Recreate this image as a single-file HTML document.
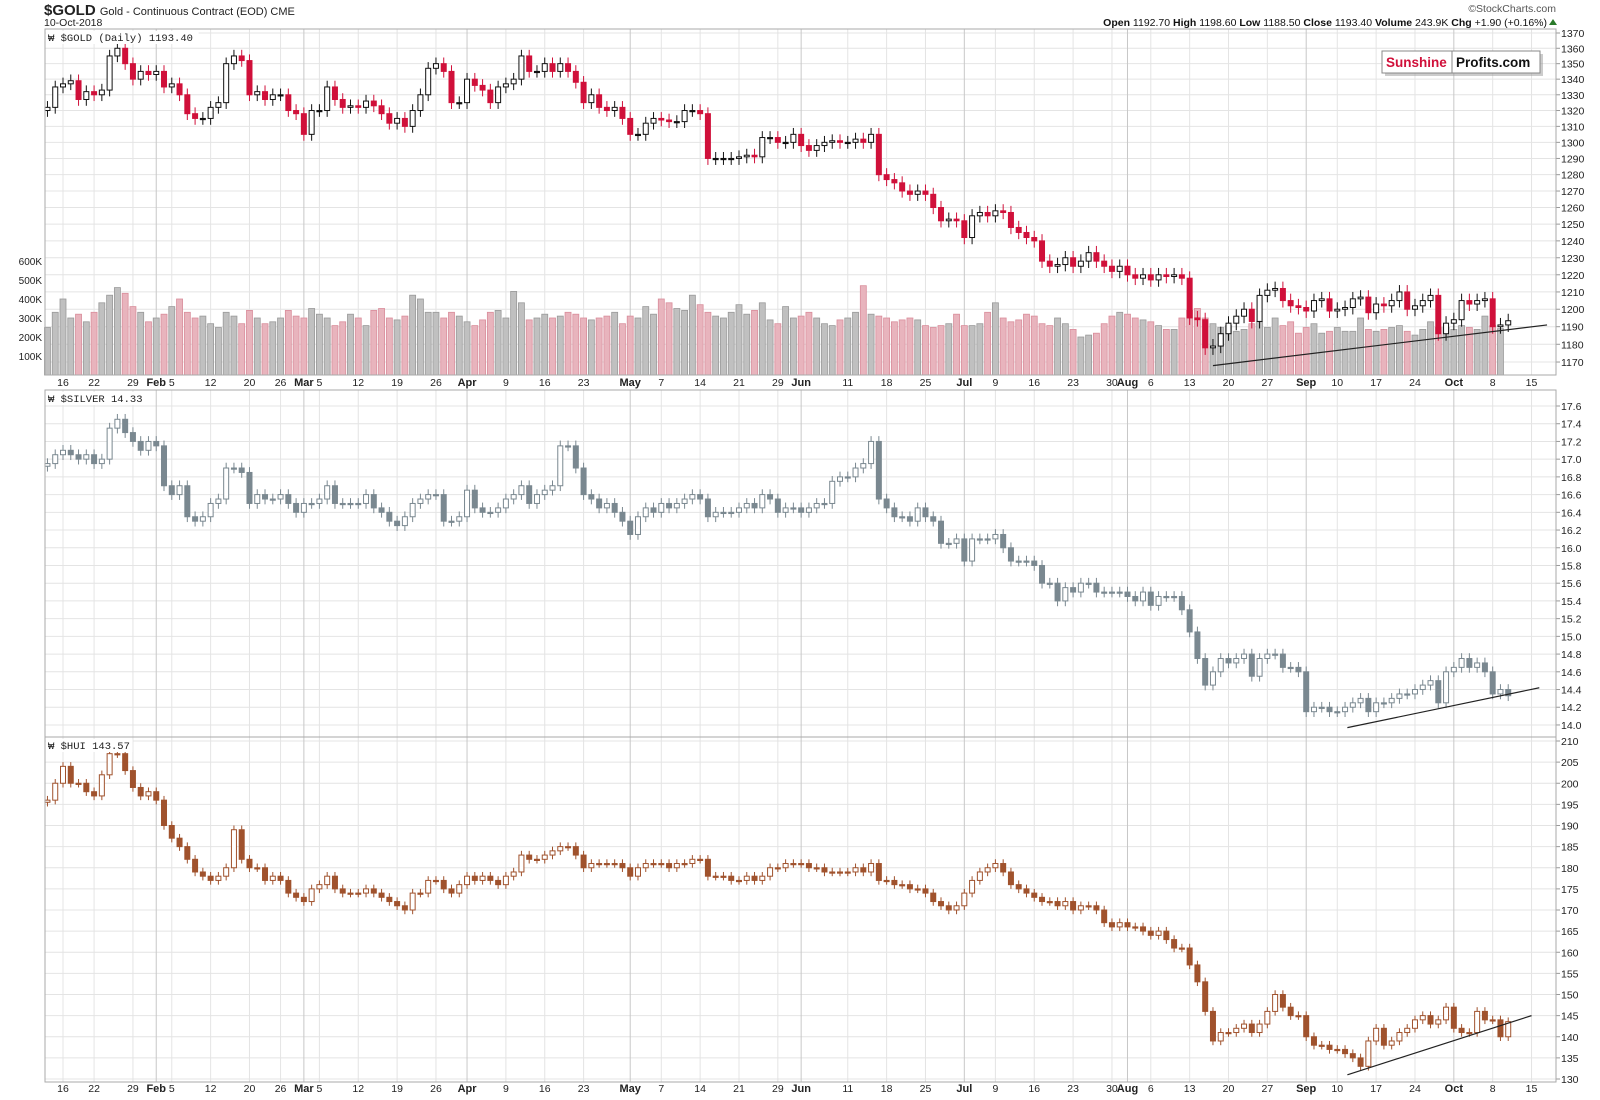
<!DOCTYPE html>
<html><head><meta charset="utf-8"><style>
html,body{margin:0;padding:0;background:#fff;}
svg{display:block;font-family:"Liberation Sans",sans-serif;}
</style></head><body>
<svg id="c" width="1600" height="1100" viewBox="0 0 1600 1100" xmlns="http://www.w3.org/2000/svg">
<rect x="0" y="0" width="1600" height="1100" fill="#fff"/>
<text x="44" y="15" font-size="15" font-weight="bold" fill="#222">$GOLD <tspan font-size="11" font-weight="normal">Gold - Continuous Contract (EOD) CME</tspan></text>
<text x="44" y="26" font-size="10.5" fill="#222">10-Oct-2018</text>
<text x="1556" y="12" font-size="10.5" fill="#555" text-anchor="end">©StockCharts.com</text>
<text x="1547" y="26" font-size="10.5" fill="#111" text-anchor="end"><tspan font-weight="bold">Open</tspan> 1192.70 <tspan font-weight="bold">High</tspan> 1198.60 <tspan font-weight="bold">Low</tspan> 1188.50 <tspan font-weight="bold">Close</tspan> 1193.40 <tspan font-weight="bold">Volume</tspan> 243.9K <tspan font-weight="bold">Chg</tspan> +1.90 (+0.16%)</text>
<polygon points="1549,25 1557,25 1553,19" fill="#2a7a2a"/>
<g id="grid"></g>
<g id="marks"></g>
<g id="frame"></g>
<g>
<rect x="1385" y="54" width="158" height="22" fill="#999" opacity="0.5"/>
<rect x="1382" y="51" width="158" height="22" fill="#fff" stroke="#888"/>
<line x1="1452" y1="51" x2="1452" y2="73" stroke="#888"/>
<text x="1386" y="67" font-size="13.5" font-weight="bold" fill="#d0103a">Sunshine</text>
<text x="1456" y="67" font-size="13.5" font-weight="bold" fill="#111">Profits.com</text>
</g>
</svg>
<script>
// ---------- DATA ----------
const months = [[0,[11,12,16,17,18,19,22,23,24,25,26,29,30,31]],
[1,[1,2,5,6,7,8,9,12,13,14,15,16,20,21,22,23,26,27,28]],
[2,[1,2,5,6,7,8,9,12,13,14,15,16,19,20,21,22,23,26,27,28,29]],
[3,[2,3,4,5,6,9,10,11,12,13,16,17,18,19,20,23,24,25,26,27,30]],
[4,[1,2,3,4,7,8,9,10,11,14,15,16,17,18,21,22,23,24,25,29,30,31]],
[5,[1,4,5,6,7,8,11,12,13,14,15,18,19,20,21,22,25,26,27,28,29]],
[6,[2,3,5,6,9,10,11,12,13,16,17,18,19,20,23,24,25,26,27,30,31]],
[7,[1,2,3,6,7,8,9,10,13,14,15,16,17,20,21,22,23,24,27,28,29,30,31]],
[8,[4,5,6,7,10,11,12,13,14,17,18,19,20,21,24,25,26,27,28]],
[9,[1,2,3,4,5,8,9,10]]];
const goldClose = [
1322,1335,1337,1339,1327,1332,1330,1333,1355,1360,1350,1340,1345,1343,
1345,1335,1337,1330,1318,1315,1315,1322,1325,1350,1355,1352,1330,1332,1327,1330,1330,1320,1318,
1305,1320,1320,1335,1327,1322,1323,1322,1326,1323,1318,1312,1315,1310,1320,1330,1347,1350,1345,1325,1325,
1340,1336,1333,1325,1335,1337,1340,1355,1345,1345,1350,1345,1350,1345,1338,1325,1330,1322,1320,1322,1315,
1305,1305,1312,1315,1314,1313,1313,1320,1320,1318,1290,1290,1290,1290,1291,1292,1291,1303,1303,1300,1300,1305,
1298,1295,1298,1300,1301,1300,1300,1302,1300,1305,1280,1277,1275,1270,1268,1270,1268,1260,1252,1253,1252,
1242,1255,1257,1255,1258,1257,1248,1245,1242,1240,1228,1225,1226,1230,1225,1228,1233,1228,1225,1222,1225,
1220,1218,1220,1217,1220,1219,1220,1218,1195,1194,1178,1179,1186,1192,1196,1200,1193,1208,1211,1212,1205,1202,1201,
1199,1205,1206,1199,1200,1201,1206,1207,1198,1203,1202,1205,1210,1200,1202,1205,1208,1186,1192,
1194,1205,1203,1205,1206,1190,1191,1193.4];
const goldVolumeK = [
250,330,400,300,320,280,330,380,420,460,430,360,330,280,
300,320,360,400,330,300,310,270,250,330,310,270,340,300,270,280,300,340,310,
300,350,320,300,260,280,320,300,260,340,350,300,290,310,420,400,330,330,300,330,
310,280,260,290,330,340,300,440,380,290,300,320,300,310,330,320,300,290,300,310,330,
270,310,300,360,320,400,380,350,340,420,370,330,310,300,330,370,320,340,380,290,270,360,
300,310,330,300,270,260,290,300,330,470,320,310,300,280,290,300,290,260,250,260,270,
320,260,260,270,330,380,300,280,290,320,310,270,260,300,270,240,200,210,220,270,310,
330,320,300,290,280,260,240,240,300,340,350,300,270,250,260,230,240,270,280,250,300,260,280,
220,250,270,220,230,250,230,230,300,240,230,240,250,260,230,210,240,280,250,
250,240,260,250,240,310,260,244];
const silverClose = [
16.95,17.05,17.1,17.05,17.0,17.05,16.95,17.0,17.35,17.45,17.3,17.2,17.1,17.2,
17.15,16.7,16.6,16.7,16.35,16.3,16.35,16.5,16.55,16.9,16.9,16.85,16.5,16.6,16.55,16.55,16.6,16.5,16.4,
16.5,16.5,16.55,16.7,16.5,16.5,16.5,16.5,16.6,16.45,16.4,16.3,16.25,16.35,16.5,16.55,16.6,16.6,16.3,16.3,16.35,
16.65,16.45,16.4,16.4,16.45,16.55,16.6,16.7,16.5,16.6,16.65,16.7,17.15,17.15,16.9,16.6,16.55,16.45,16.5,16.4,16.3,
16.15,16.35,16.45,16.4,16.5,16.45,16.5,16.55,16.6,16.55,16.35,16.4,16.4,16.4,16.45,16.5,16.45,16.6,16.55,16.4,16.45,16.45,
16.4,16.45,16.5,16.5,16.75,16.8,16.8,16.9,16.95,17.2,16.55,16.45,16.35,16.35,16.3,16.45,16.35,16.3,16.05,16.05,16.1,
15.85,16.1,16.1,16.1,16.15,16.0,15.85,15.85,15.85,15.8,15.6,15.6,15.4,15.55,15.5,15.6,15.6,15.5,15.5,15.5,15.5,
15.45,15.4,15.5,15.35,15.45,15.45,15.45,15.3,15.05,14.75,14.45,14.6,14.75,14.7,14.75,14.8,14.55,14.75,14.8,14.8,14.65,14.65,14.6,
14.15,14.2,14.2,14.15,14.15,14.2,14.25,14.3,14.15,14.25,14.25,14.3,14.35,14.35,14.4,14.45,14.5,14.25,14.6,
14.65,14.75,14.65,14.7,14.6,14.35,14.4,14.33];
const huiClose = [
196,200,204,200,200,198,197,202,207,207,203,199,197,198,
196,190,187,185,182,179,178,177,178,180,189,182,180,180,177,178,177,174,173,
172,175,176,178,175,174,174,174,175,174,173,172,171,170,174,174,177,177,175,174,176,
178,177,178,177,176,178,179,183,182,182,183,184,185,185,183,180,181,181,181,181,180,
178,180,181,181,181,180,181,181,182,182,178,178,178,177,177,178,177,178,180,180,181,181,
181,180,180,179,179,179,179,180,179,181,177,177,176,176,175,175,174,172,171,170,171,
174,177,179,180,181,179,176,175,174,173,172,172,171,172,170,171,171,170,167,166,167,
166,166,165,164,165,163,161,161,157,153,146,139,141,141,142,143,141,143,146,150,147,145,145,
140,138,138,137,137,136,135,133,139,142,138,139,141,142,144,145,143,144,147,
142,141,141,146,144,144,140,143.57];
const goldTicks = [1170,1180,1190,1200,1210,1220,1230,1240,1250,1260,1270,1280,1290,1300,1310,1320,1330,1340,1350,1360,1370];
const volTicks = [100,200,300,400,500,600];
const silverTicks = [14.0,14.2,14.4,14.6,14.8,15.0,15.2,15.4,15.6,15.8,16.0,16.2,16.4,16.6,16.8,17.0,17.2,17.4,17.6];
const huiTicks = [130,135,140,145,150,155,160,165,170,175,180,185,190,195,200,205,210];
// date ticks: [month, day, label, isMonthStart]
const dateTicks = [[0,16,"16",0],[0,22,"22",0],[0,29,"29",0],[1,1,"Feb",1],[1,5,"5",0],[1,12,"12",0],[1,20,"20",0],[1,26,"26",0],[2,1,"Mar",1],[2,5,"5",0],[2,12,"12",0],[2,19,"19",0],[2,26,"26",0],[3,2,"Apr",1],[3,9,"9",0],[3,16,"16",0],[3,23,"23",0],[4,1,"May",1],[4,7,"7",0],[4,14,"14",0],[4,21,"21",0],[4,29,"29",0],[5,1,"Jun",1],[5,11,"11",0],[5,18,"18",0],[5,25,"25",0],[6,2,"Jul",1],[6,9,"9",0],[6,16,"16",0],[6,23,"23",0],[6,30,"30",0],[7,1,"Aug",1],[7,6,"6",0],[7,13,"13",0],[7,20,"20",0],[7,27,"27",0],[8,4,"Sep",1],[8,10,"10",0],[8,17,"17",0],[8,24,"24",0],[9,1,"Oct",1],[9,8,"8",0],[9,15,"15",0]];
// trend lines: [startIndex, startValue, endIndex, endValue]
const goldTrend = [150, 1168, 193, 1191];
const silverTrend = [167.3, 13.97, 192, 14.42];
const huiTrend = [167.3, 131, 191, 145];

// ---------- SCALES ----------
const NS = "http://www.w3.org/2000/svg";
const L = 45, R = 1556;
const P = {g:[29,375], s:[390,737], h:[737,1082]};
const dayIdx = {};
let n = 0;
months.forEach(([m, ds]) => ds.forEach(d => { dayIdx[m + "-" + d] = n++; }));
dayIdx["9-15"] = n + 2; // Oct 15 (future)
const xOf = i => 63 + (i - 2) * 7.77;
const yGold = p => 33 + (Math.log(1370) - Math.log(p)) * 2085;
const yVol = v => 375 - v * 0.19;
const ySil = p => 406 + (17.6 - p) * 88.6;
const yHui = p => 741 + (210 - p) * 4.225;

const grid = document.getElementById("grid");
const marks = document.getElementById("marks");
const frame = document.getElementById("frame");
function mk(tag, attrs, parent) {
  const e = document.createElementNS(NS, tag);
  for (const k in attrs) e.setAttribute(k, attrs[k]);
  parent.appendChild(e);
  return e;
}

// horizontal grid + y labels
function yAxis(ticks, yf, fmt, name) {
  ticks.forEach(t => {
    const y = yf(t);
    const gl = mk("line", {x1: L, x2: R, y1: y, y2: y, stroke: "#e4e4e4", "stroke-width": 1}, grid);
    
    
    mk("line", {x1: R, x2: R + 4, y1: y, y2: y, stroke: "#999"}, frame);
    const tx = mk("text", {x: R + 5, y: y + 4, "font-size": 10.5, fill: "#222"}, frame);
    tx.textContent = fmt(t);
    
    
  });
}
yAxis(goldTicks, yGold, t => t, "gold-y-axis");
yAxis(silverTicks, ySil, t => t.toFixed(1), "silver-y-axis");
yAxis(huiTicks, yHui, t => t, "hui-y-axis");
volTicks.forEach(v => {
  const tx = mk("text", {x: 42, y: yVol(v) + 4, "font-size": 10, fill: "#222", "text-anchor": "end"}, frame);
  tx.textContent = v + "K";
  
  
});

// vertical grid + date labels
dateTicks.forEach(([m, d, lab, ms]) => {
  const i = dayIdx[m + "-" + d];
  const x = xOf(i);
  [[P.g[0], P.g[1]], [P.s[0], P.s[1]], [P.h[0], P.h[1]]].forEach(([a, b]) => {
    const vl = mk("line", {x1: x, x2: x, y1: a, y2: b, stroke: ms ? "#c8c8c8" : "#e4e4e4", "stroke-width": 1}, grid);
    
    
  });
  [386, 1092].forEach(y => {
    const tx = mk("text", {x: x, y: y, "font-size": ms ? 11 : 10.5, "font-weight": ms ? "bold" : "normal", fill: "#222", "text-anchor": "middle"}, frame);
    tx.textContent = lab;
    
    
  });
});

// panel frames
[["gold-panel", P.g], ["silver-panel", P.s], ["hui-panel", P.h]].forEach(([nm, [a, b]]) => {
  const r = mk("rect", {x: L, y: a, width: R - L, height: b - a, fill: "none", stroke: "#aaa"}, frame);
  
  
});
[["$GOLD (Daily) 1193.40", 41, "gold-panel-label"], ["$SILVER 14.33", 402, "silver-panel-label"], ["$HUI 143.57", 749, "hui-panel-label"]].forEach(([t, y, nm]) => {
  mk("rect", {x: 46, y: y - 10, width: t.length * 6.6 + 14, height: 13, fill: "#fff"}, frame);
  const tx = mk("text", {x: 48, y: y, "font-size": 10.5, fill: "#222", "font-family": "Liberation Mono, monospace"}, frame);
  tx.textContent = "₩ " + t;
  
  
});

// volume bars
goldVolumeK.forEach((v, i) => {
  const up = i === 0 || goldClose[i] >= goldClose[i - 1];
  const x = xOf(i);
  const b = mk("rect", {x: x - 3, y: yVol(v), width: 6, height: 375 - yVol(v), fill: up ? "#c0c0c0" : "#e8b4bd", stroke: up ? "#999" : "#d98d9b", "stroke-width": 0.8}, marks);
  
  
});

// candles
function candles(arr, yf, upCol, dnCol, wick, name) {
  arr.forEach((c, i) => {
    const o = i === 0 ? c - wick * 0.5 : arr[i - 1];
    const hi = Math.max(o, c) + wick, lo = Math.min(o, c) - wick;
    const x = xOf(i);
    const col = (i > 0 && c < arr[i - 1]) ? dnCol : upCol;
    const g = mk("g", {}, marks);
    
    
    mk("line", {x1: x, x2: x, y1: yf(hi), y2: yf(lo), stroke: col, "stroke-width": 1}, g);
    const top = yf(Math.max(o, c)), bot = yf(Math.min(o, c));
    const h = Math.max(1.2, bot - top);
    mk("rect", {x: x - 2.5, y: top, width: 5, height: h, fill: c > o ? "#fff" : col, stroke: col, "stroke-width": 1}, g);
  });
}
candles(goldClose, yGold, "#111", "#d0103a", 4, "gold-candle");
candles(silverClose, ySil, "#7a8890", "#7a8890", 0.06, "silver-candle");
candles(huiClose, yHui, "#a0522d", "#a0522d", 1, "hui-candle");

// trend lines
[[goldTrend, yGold, "gold-trendline"], [silverTrend, ySil, "silver-trendline"], [huiTrend, yHui, "hui-trendline"]].forEach(([t, yf, nm]) => {
  const ln = mk("line", {x1: xOf(t[0]), y1: yf(t[1]), x2: xOf(t[2]), y2: yf(t[3]), stroke: "#222", "stroke-width": 1.2}, marks);
  
  
});
</script>
</body></html>
